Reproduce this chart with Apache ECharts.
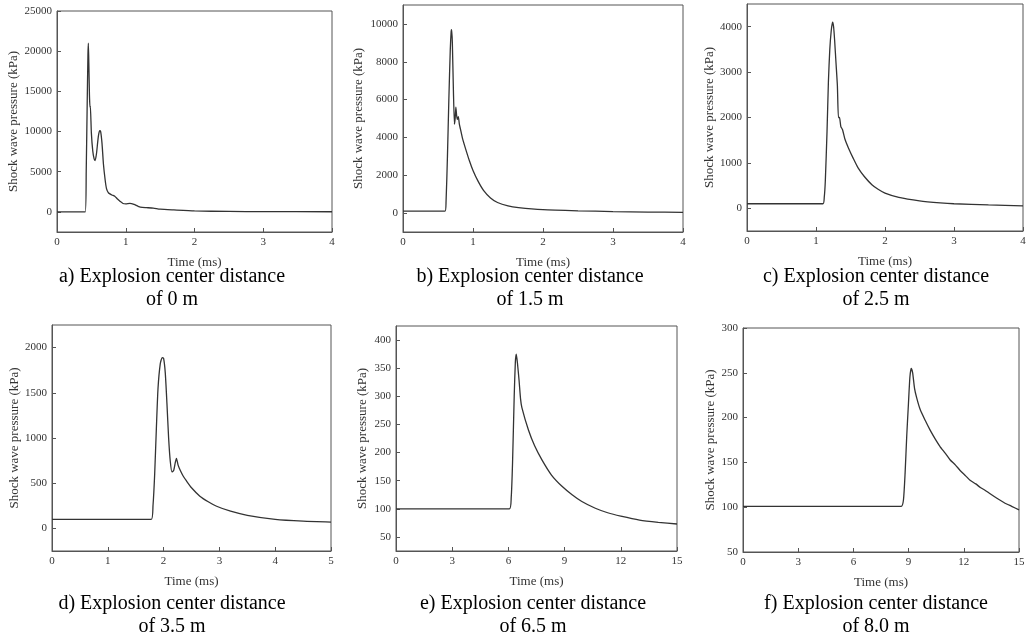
<!DOCTYPE html>
<html>
<head>
<meta charset="utf-8">
<script src="https://cdn.jsdelivr.net/npm/echarts@6/dist/echarts.min.js"></script>
<style>
  html, body { margin: 0; padding: 0; background: #fff; }
  #main { width: 1033px; height: 644px; }
</style>
</head>
<body>
<div id="main"></div>
<script>
// pressure curves, [time (ms), pressure (kPa)]
var curveA = [[0, 0], [0.41, 0], [0.425, 5000], [0.44, 14000], [0.45, 19500], [0.456, 21000], [0.463, 18500],
  [0.472, 14500], [0.48, 13000], [0.485, 13200], [0.5, 9800], [0.52, 7600], [0.54, 6600], [0.555, 6400],
  [0.575, 7300], [0.6, 9300], [0.62, 10100], [0.635, 10000], [0.655, 8500], [0.675, 6000], [0.7, 4000],
  [0.72, 2900], [0.75, 2350], [0.8, 2100], [0.84, 1950], [0.88, 1600], [0.92, 1300], [0.96, 1050],
  [1.0, 1000], [1.06, 1050], [1.12, 930], [1.18, 700], [1.24, 560], [1.3, 530], [1.4, 480], [1.5, 350],
  [1.7, 250], [2.0, 120], [2.5, 60], [3.0, 35], [4.0, 20]];
var curveB = [[0, 100], [0.6, 100], [0.615, 600], [0.635, 3000], [0.655, 6000], [0.675, 8600], [0.688, 9600],
  [0.695, 9700], [0.705, 9000], [0.72, 6500], [0.735, 4700], [0.745, 5000], [0.755, 5600], [0.765, 5200],
  [0.775, 4950], [0.79, 5100], [0.805, 4700], [0.82, 4450], [0.85, 3950], [0.89, 3450], [0.95, 2750],
  [1.0, 2250], [1.07, 1700], [1.15, 1200], [1.25, 800], [1.35, 560], [1.5, 380], [1.65, 290], [2.0, 180],
  [2.5, 120], [3.0, 80], [3.5, 55], [4.0, 40]];
var curveC = [[0, 100], [1.1, 100], [1.12, 250], [1.135, 600], [1.16, 1700], [1.18, 2800], [1.2, 3500],
  [1.22, 3900], [1.24, 4100], [1.255, 4000], [1.27, 3700], [1.29, 3200], [1.31, 2700], [1.325, 2000],
  [1.34, 2000], [1.36, 1800], [1.385, 1730], [1.42, 1520], [1.47, 1330], [1.54, 1100], [1.61, 890],
  [1.7, 700], [1.81, 520], [1.9, 420], [2.0, 335], [2.2, 240], [2.5, 165], [2.8, 120], [3.0, 100],
  [3.5, 75], [4.0, 55]];
var curveD = [[0, 100], [1.78, 100], [1.81, 250], [1.84, 600], [1.87, 1100], [1.9, 1550], [1.94, 1820],
  [1.975, 1890], [2.0, 1880], [2.03, 1720], [2.06, 1380], [2.09, 1000], [2.12, 740], [2.15, 625],
  [2.18, 640], [2.21, 730], [2.23, 775], [2.26, 700], [2.3, 640], [2.35, 580], [2.41, 525], [2.5, 450],
  [2.65, 357], [2.8, 295], [2.95, 245], [3.2, 190], [3.5, 145], [4.0, 100], [4.5, 80], [5.0, 70]];
var curveE = [[0, 100], [6.05, 100], [6.15, 120], [6.22, 180], [6.31, 300], [6.37, 360], [6.42, 375],
  [6.48, 360], [6.57, 328], [6.65, 295], [6.72, 280], [7.07, 240], [7.4, 212], [7.79, 187], [8.3, 160],
  [8.86, 140], [9.4, 125], [9.92, 113], [10.64, 101], [11.3, 93], [12.0, 87], [13.0, 80], [14.0, 76],
  [15.0, 73]];
var curveF = [[0, 101], [8.6, 101], [8.72, 108], [8.81, 138], [8.9, 180], [8.99, 215], [9.07, 245],
  [9.14, 255], [9.22, 250], [9.32, 233], [9.44, 222], [9.63, 209], [9.9, 197], [10.17, 186], [10.45, 176],
  [10.7, 168], [11.0, 160], [11.25, 153], [11.55, 147], [11.8, 141], [12.1, 135], [12.34, 130],
  [12.65, 126], [12.9, 122], [13.15, 119], [13.43, 115], [13.8, 110], [14.2, 105], [14.6, 101], [15.0, 97]];

// tick labels
var yTicksA = [0, 5000, 10000, 15000, 20000, 25000];
var yTicksB = [0, 2000, 4000, 6000, 8000, 10000];
var yTicksC = [0, 1000, 2000, 3000, 4000];
var yTicksD = [0, 500, 1000, 1500, 2000];
var yTicksE = [50, 100, 150, 200, 250, 300, 350, 400];
var yTicksF = [50, 100, 150, 200, 250, 300];
var xTicksShort = [0, 1, 2, 3, 4];
var xTicksD = [0, 1, 2, 3, 4, 5];
var xTicksLong = [0, 3, 6, 9, 12, 15];

var captions = [
  ["a) Explosion center distance", "of 0 m"],
  ["b) Explosion center distance", "of 1.5 m"],
  ["c) Explosion center distance", "of 2.5 m"],
  ["d) Explosion center distance", "of 3.5 m"],
  ["e) Explosion center distance", "of 6.5 m"],
  ["f) Explosion center distance", "of 8.0 m"]
];

var FONT = "'Liberation Serif', 'Times New Roman', serif";

var panels = [
  { curve: curveA, yTicks: yTicksA, ymin: -2500, ymax: 25000, xTicks: xTicksShort, grid: [57, 11, 275, 221], yGap: 37, cap: [172, 277] },
  { curve: curveB, yTicks: yTicksB, ymin: -1000, ymax: 11000, xTicks: xTicksShort, grid: [403, 5, 280, 227], yGap: 38, cap: [530, 277] },
  { curve: curveC, yTicks: yTicksC, ymin: -500, ymax: 4500, xTicks: xTicksShort, grid: [747, 4, 276, 227], yGap: 31, cap: [876, 277] },
  { curve: curveD, yTicks: yTicksD, ymin: -250, ymax: 2250, xTicks: xTicksD, grid: [52, 325, 279, 226], yGap: 29, cap: [172, 604] },
  { curve: curveE, yTicks: yTicksE, ymin: 25, ymax: 425, xTicks: xTicksLong, grid: [396, 326, 281, 225], yGap: 27, cap: [533, 604] },
  { curve: curveF, yTicks: yTicksF, ymin: 50, ymax: 300, xTicks: xTicksLong, grid: [743, 328, 276, 224], yGap: 26, cap: [876, 604] }
];

var plain = function (v) { return String(v); };

var grids = [], xAxes = [], yAxes = [], series = [], graphics = [];

panels.forEach(function (p, i) {
  grids.push({
    left: p.grid[0], top: p.grid[1], width: p.grid[2], height: p.grid[3],
    show: true, borderColor: "#555", borderWidth: 1, backgroundColor: "#fff"
  });
  var xs = p.xTicks;
  xAxes.push({
    gridIndex: i, type: "value",
    min: xs[0], max: xs[xs.length - 1], interval: xs[1] - xs[0],
    name: "Time (ms)", nameLocation: "middle", nameGap: 24,
    nameTextStyle: { fontFamily: FONT, fontSize: 13, color: "#333" },
    axisLine: { show: true, onZero: false, lineStyle: { color: "#555", width: 1 } },
    axisTick: { show: true, inside: true, length: 4, lineStyle: { color: "#555" } },
    axisLabel: { fontFamily: FONT, fontSize: 11, color: "#333", margin: 5, formatter: plain },
    splitLine: { show: false }
  });
  yAxes.push({
    gridIndex: i, type: "value",
    min: p.ymin, max: p.ymax,
    name: "Shock wave pressure (kPa)", nameLocation: "middle", nameGap: p.yGap,
    nameTextStyle: { fontFamily: FONT, fontSize: 13, color: "#333" },
    axisLine: { show: true, onZero: false, lineStyle: { color: "#555", width: 1 } },
    axisTick: { show: true, inside: true, length: 4, customValues: p.yTicks, lineStyle: { color: "#555" } },
    axisLabel: { fontFamily: FONT, fontSize: 11, color: "#333", margin: 5, customValues: p.yTicks, formatter: plain },
    splitLine: { show: false }
  });
  series.push({
    type: "line", xAxisIndex: i, yAxisIndex: i,
    data: p.curve, showSymbol: false, smooth: 0.2,
    lineStyle: { color: "#333", width: 1.3 }
  });
  graphics.push({
    type: "text", x: p.cap[0], y: p.cap[1],
    style: { text: captions[i][0], font: "20px " + FONT, fill: "#000", textAlign: "center", textVerticalAlign: "middle" }
  });
  graphics.push({
    type: "text", x: p.cap[0], y: p.cap[1] + 23,
    style: { text: captions[i][1], font: "20px " + FONT, fill: "#000", textAlign: "center", textVerticalAlign: "middle" }
  });
});

var chart = echarts.init(document.getElementById("main"));
chart.setOption({
  animation: false,
  backgroundColor: "#fff",
  grid: grids,
  xAxis: xAxes,
  yAxis: yAxes,
  series: series,
  graphic: graphics
});
</script>
</body>
</html>
